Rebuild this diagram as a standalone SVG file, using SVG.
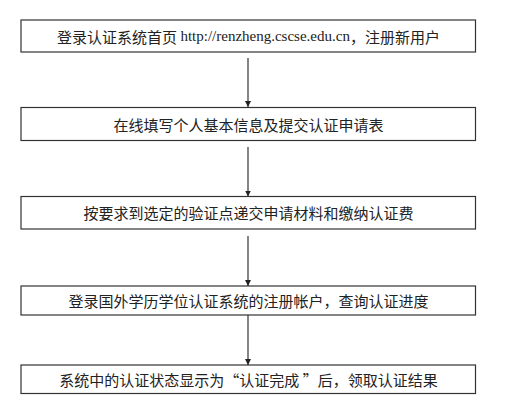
<svg xmlns="http://www.w3.org/2000/svg" width="511" height="415" viewBox="0 0 511 415">
<style>
.box{fill:#fff;stroke:#333;stroke-width:1.2}
.t{font-family:"Noto Sans CJK SC","Noto Sans CJK JP",sans-serif;font-size:15px;fill:#222;text-anchor:middle;dominant-baseline:central}
.u{font-family:"Liberation Serif",serif}
.c{stroke:#333;stroke-width:1.2;fill:none;marker-end:url(#ah)}
</style>
<defs>
<marker id="ah" markerWidth="6" markerHeight="7" refX="6" refY="3" orient="auto" markerUnits="userSpaceOnUse" viewBox="0 0 6 6">
<path d="M0,0 L6,3 L0,6 Z" fill="#222"/>
</marker>
</defs>
<rect width="511" height="415" fill="#fff"/>
<g id="connectors">
<line class="c" x1="248" y1="58" x2="248" y2="107"/>
<line class="c" x1="248" y1="147" x2="248" y2="196.5"/>
<line class="c" x1="248" y1="236" x2="248" y2="286"/>
<line class="c" x1="248" y1="315" x2="248" y2="365"/>
</g>
<g id="n1">
<rect class="box" x="21" y="20" width="454.5" height="32"/>
<text class="t" x="248.5" y="36">登录认证系统首页 <tspan class="u">http://renzheng.cscse.edu.cn</tspan>，注册新用户</text>
</g>
<g id="n2">
<rect class="box" x="21" y="107.5" width="454.5" height="33"/>
<text class="t" x="248.5" y="124">在线填写个人基本信息及提交认证申请表</text>
</g>
<g id="n3">
<rect class="box" x="21" y="196.5" width="454.5" height="32.5"/>
<text class="t" x="248.5" y="212.5">按要求到选定的验证点递交申请材料和缴纳认证费</text>
</g>
<g id="n4">
<rect class="box" x="21" y="286" width="454.5" height="29"/>
<text class="t" x="248.5" y="300.5">登录国外学历学位认证系统的注册帐户，查询认证进度</text>
</g>
<g id="n5">
<rect class="box" x="21" y="365" width="454.5" height="28.5"/>
<text class="t" x="248.5" y="379">系统中的认证状态显示为“认证完成 ”后，领取认证结果</text>
</g>
</svg>
